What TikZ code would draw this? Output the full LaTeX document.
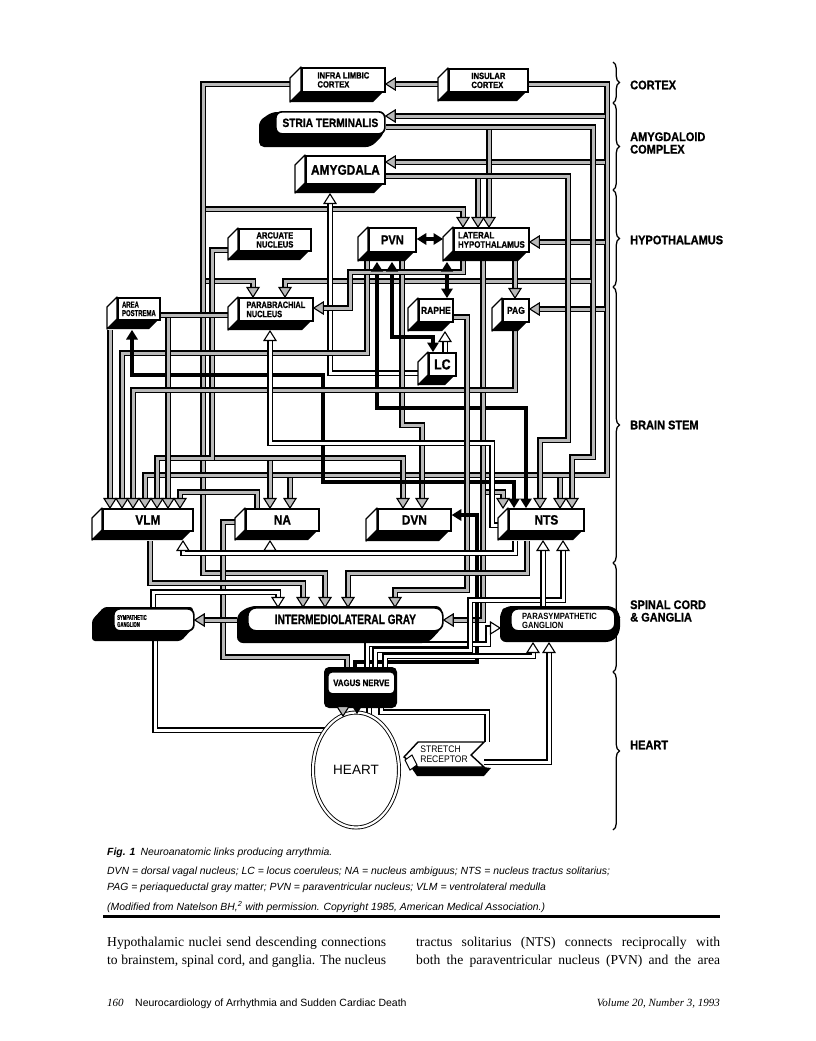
\documentclass[tikz,border=0pt]{standalone}
\usepackage{fontspec}
\usepackage{graphicx}
\setmainfont{Liberation Serif}
\newfontfamily\fs{Liberation Sans}
\newfontfamily\fh{Liberation Sans}[BoldFeatures={FakeBold=1}]
\usetikzlibrary{shapes.geometric,decorations.pathreplacing,backgrounds}
\newcommand\fz[1]{\fontsize{#1}{#1}\selectfont}
\newcommand\one[2]{\scalebox{#1}[1]{#2}}
\newcommand\two[3]{\scalebox{#1}[1]{#2}\\\scalebox{#1}[1]{#3}}
\newcommand\tD[2]{\pic[rotate=-90] at (#1) {#2};}
\newcommand\tU[2]{\pic[rotate=90] at (#1) {#2};}
\newcommand\tL[2]{\pic[rotate=180] at (#1) {#2};}
\newcommand\tR[2]{\pic at (#1) {#2};}
\newcommand\cube[8]{%
  \fill[black] (#2,#5) -- ({#2-#6},{#5+#6}) -- ({#4-#6},{#5+#6}) -- (#4,#5) -- cycle;
  \filldraw[fill=white,draw=black,line width=1.3pt,line join=round] (#2,#3) -- ({#2-#6},{#3+#6}) -- ({#2-#6},{#5+#6}) -- (#2,#5) -- cycle;
  \node[face,minimum width={#4-#2},minimum height={#5-#3},font={\fh\bfseries\fz{#7}}] (#1) at (#2,#3) {#8};}
\tikzset{
  hat/.style={draw=black,line width=5.6pt,line join=miter,postaction={draw=gray!55,line width=3pt}},
  wht/.style={draw=black,line width=5.6pt,line join=miter,postaction={draw=white,line width=3pt}},
  blk/.style={draw=black,line width=4pt,line join=miter},
  sa/.style={shorten >=8pt},
  sb/.style={shorten <=8pt},
  pics/hT/.style={code={\filldraw[draw=black,fill=gray!55,line width=1.1pt,line join=miter] (0,0) -- (-9.5,6) -- (-9.5,-6) -- cycle;}},
  pics/wT/.style={code={\filldraw[draw=black,fill=white,line width=1.1pt,line join=miter] (0,0) -- (-9.5,6) -- (-9.5,-6) -- cycle;}},
  pics/bT/.style={code={\fill[black] (0,0) -- (-9.5,6) -- (-9.5,-6) -- cycle;}},
  face/.style={draw=black,line width=1.8pt,fill=white,inner sep=0pt,anchor=north west,align=left},
  rface/.style={draw=black,line width=1.7pt,fill=white,inner sep=0pt,anchor=north west,align=left},
  rlab/.style={anchor=west,inner sep=0pt,align=left,font={\fh\bfseries\fz{12.5}}},
  txt/.style={anchor=base west,inner sep=0pt},
}
\begin{document}
\begin{tikzpicture}[x=1pt,y=-1pt]
\useasboundingbox (0,0) rectangle (816,1041);

% ---------- boxes ----------
\cube{ilc}{301}{67}{384}{91}{11}{9}{\two{0.85}{INFRA LIMBIC}{CORTEX}}
\cube{ins}{448}{68}{527}{91}{10}{9}{\two{0.85}{INSULAR}{CORTEX}}
\fill[black,rounded corners=5pt] (272,112) -- (384,112) -- (384,134) -- (371,147) -- (259,147) -- (259,121) -- cycle;
\node[rface,rounded corners=6pt,minimum width=109,minimum height=22,font={\fh\bfseries\fz{12}}] (stria) at (275,111) {\one{0.85}{STRIA TERMINALIS}};
\cube{amy}{305}{155}{384}{183}{10}{14}{\one{0.85}{AMYGDALA}}
\cube{arc}{238}{228}{310}{250}{10}{9}{\two{0.85}{ARCUATE}{NUCLEUS}}
\cube{pvn}{368}{227}{415}{251}{10}{13}{\one{0.85}{PVN}}
\cube{lh}{453}{227}{528}{251}{10}{9.3}{\two{0.85}{LATERAL}{HYPOTHALAMUS}}
\cube{ap}{117}{297}{159}{319}{10}{8.5}{\two{0.7}{AREA}{POSTREMA}}
\cube{pb}{238}{297}{312}{320}{10}{9.2}{\two{0.8}{PARABRACHIAL}{NUCLEUS}}
\cube{raphe}{418}{298}{452}{321}{10}{10}{\one{0.85}{RAPHE}}
\cube{pag}{502}{298}{528}{321}{10}{10}{\one{0.85}{PAG}}
\cube{lc}{428}{352}{455}{375}{10}{14.5}{\one{0.85}{LC}}
\cube{vlm}{102}{508}{192}{530}{10}{13.5}{\one{0.88}{VLM}}
\cube{na}{245}{508}{318}{530}{10}{13.5}{\one{0.88}{NA}}
\cube{dvn}{377}{508}{450}{530}{11}{13.5}{\one{0.88}{DVN}}
\cube{nts}{508}{508}{583}{530}{10}{13.5}{\one{0.88}{NTS}}

% spinal cord & ganglia
\fill[black,rounded corners=3pt] (104,607) -- (193,607) -- (193,628) -- (181,641) -- (92,641) -- (92,620) -- cycle;
\node[rface,rounded corners=6pt,minimum width=80,minimum height=22] (symp) at (113,608) {};
\node[anchor=west,inner sep=0pt,align=left,font={\fh\bfseries\fz{7}}] (symptxt) at (117,621) {\two{0.6}{SYMPATHETIC}{GANGLION}};
\fill[black,rounded corners=6pt] (250,606) -- (442,606) -- (442,628) -- (428,643) -- (237,643) -- (237,614) -- cycle;
\node[rface,rounded corners=8pt,minimum width=195,minimum height=23,font={\fh\bfseries\fz{13.5}}] (iml) at (247,607) {\one{0.75}{INTERMEDIOLATERAL GRAY}};
\fill[black,rounded corners=6pt] (506,606) -- (613,606) -- (620,613) -- (620,633) -- (612,642) -- (500,642) -- (500,612) -- cycle;
\node[rface,rounded corners=7pt,minimum width=104,minimum height=22] (para) at (510,608) {};
\node[anchor=west,inner sep=0pt,align=left,font={\fs\bfseries\fz{9}}] (paratxt) at (522,620.5) {\two{0.85}{PARASYMPATHETIC}{GANGLION}};

% heart region
\fill[black,rounded corners=5pt] (324,667) rectangle (397,708);
\node[rface,rounded corners=4pt,minimum width=67,minimum height=22,font={\fh\bfseries\fz{9.2}}] (vagus) at (327,671) {\one{0.85}{VAGUS NERVE}};
\node[ellipse,draw,fill=white,line width=0.9pt,double=white,double distance=2.2pt,minimum width=86,minimum height=115,inner sep=0pt,font={\fs\fz{13.5}}] (heart) at (356,770) {HEART};
\fill[black] (404,757) -- (417,776) -- (484,776) -- (491,768) -- (483,767) -- (418,767) -- cycle;
\filldraw[fill=white,draw=black,line width=1.4pt,line join=miter] (404,757) -- (418,742) -- (484,742) -- (471,755) -- (484,767) -- (418,767) -- cycle;
\filldraw[fill=white,draw=black,line width=1pt] (405,760) -- (412,755) -- (417,765) -- (410,770) -- cycle;
\node[inner sep=0pt,align=left,font={\fs\fz{9.5}}] (stretch) at (444,754) {\two{0.9}{STRETCH}{RECEPTOR}};

% ---------- connectors ----------
\begin{pgfonlayer}{background}
\fill[white] (0,0) rectangle (816,1041);
% cortex / amygdala
\draw[hat,sa] (290,84) -- (203,84) -- (203,573) -- (325,573) -- (325,0 |- iml.north);
\draw[hat,sa] (438,84) -- (ilc.east |- 0,84);
\draw[hat,sa] (ins.east |- 0,84) -- (607,84) -- (607,475) -- (145,475) -- (145,0 |- vlm.north);
\draw[hat,sa] (604.5,116) -- (stria.east |- 0,116);
\draw[hat,sa] (604.5,162) -- (amy.east |- 0,162);
\draw[hat,sa] (604.5,242) -- (lh.east |- 0,242);
\draw[hat,sa] (604.5,309) -- (pag.east |- 0,309);
\draw[hat,sa] (560,477.5) -- (560,0 |- nts.north);
\draw[hat,sa] (290,477.5) -- (290,0 |- na.north);
\draw[hat,sa] (stria.east |- 0,127) -- (593,127) -- (593,457) -- (572,457) -- (572,0 |- nts.north);
\draw[hat,sa] (489,129.5) -- (489,0 |- lh.north);
\draw[hat,sa] (590.5,281) -- (285,281) -- (285,0 |- pb.north);
\draw[hat,sa] (amy.east |- 0,176) -- (568,176) -- (568,440) -- (540,440) -- (540,0 |- nts.north);
\draw[hat,sa] (478,178.5) -- (478,0 |- lh.north);
\draw[hat,sa] (205.5,209) -- (463,209) -- (463,0 |- lh.north);
\draw[hat,sa] (205.5,281) -- (253,281) -- (253,0 |- pb.north);
\draw[wht,sa] (418,373) -- (330,373) -- (330,194);
% hypothalamus
\draw[blk,sa,sb] (pvn.east |- 0,239) -- (443,239);
\draw[hat,sa] (228,250) -- (212,250) -- (212,458) -- (157,458) -- (157,0 |- vlm.north);
\draw[hat,sa] (214.5,458) -- (403,458) -- (403,0 |- dvn.north);
\draw[hat,sa] (270,460.5) -- (270,0 |- na.north);
\draw[hat,sa] (367,252) -- (367,353) -- (122,353) -- (122,0 |- vlm.north);
\draw[hat,sa] (402,252) -- (402,425) -- (422,425) -- (422,0 |- dvn.north);
\draw[blk,sa,sb] (377,262) -- (377,408) -- (526,408) -- (526,0 |- nts.north);
\draw[blk,sa,sb] (392,262) -- (392,337) -- (433,337) -- (433,0 |- lc.north);
\draw[blk,sa,sb] (447,262) -- (447,0 |- raphe.north);
\draw[hat,sa] (463,252) -- (463,272) -- (350,272) -- (350,308) -- (pb.east |- 0,308);
\draw[hat,sa] (515,252) -- (515,0 |- pag.north);
\draw[hat,sa] (483,252) -- (483,620) -- (iml.east |- 0,620);
\draw[hat,sa] (485.5,492) -- (503,492) -- (503,0 |- nts.north);
\draw[wht,sa] (445,352) -- (445,332);
% brain stem
\draw[hat,sa] (110,330) -- (110,0 |- vlm.north);
\draw[blk,sa,sb] (132,330) -- (132,375) -- (323,375) -- (323,482) -- (514,482) -- (514,0 |- nts.north);
\draw[hat] (228,315) -- (ap.east |- 0,315);
\draw[hat,sa] (168,317.5) -- (168,0 |- vlm.north);
\draw[hat,sa] (515,331) -- (515,390) -- (133,390) -- (133,0 |- vlm.north);
\draw[wht,sa] (498,525) -- (492,525) -- (492,443) -- (270,443) -- (270,331);
\draw[hat,sa] (452,317) -- (467,317) -- (467,590) -- (395,590) -- (395,0 |- iml.north);
\draw[hat,sa] (257,0 |- na.north) -- (257,492) -- (180,492) -- (180,0 |- vlm.north);
\draw[hat] (235,522) -- (223,522) -- (223,657) -- (347,657) -- (347,0 |- vagus.north);
\draw[blk,sa] (355,668) -- (355,662) -- (477,662) -- (477,515) -- (dvn.east |- 0,515);
\draw[wht,sa] (515,541) -- (515,553) -- (183,553) -- (183,541);
\draw[wht,sa] (270,550.5) -- (270,541);
\draw[hat,sa] (527,541) -- (527,573) -- (348,573) -- (348,0 |- iml.north);
\draw[hat,sa] (150,541) -- (150,583) -- (303,583) -- (303,0 |- iml.north);
\draw[wht,sa] (153,608) -- (153,592) -- (278,592) -- (278,0 |- iml.north);
\draw[hat,sa] (237,620) -- (symp.east |- 0,620);
% heart region
\draw[wht] (155,641) -- (155,730) -- (330,730);
\draw[hat,sa] (343,700) -- (343,716);
\draw[blk,sa] (357,700) -- (357,714);
\draw[wht] (369,700) -- (369,717);
\draw[wht] (381,700) -- (381,712) -- (487,712) -- (487,742);
\draw[wht,sa] (484,762) -- (549,762) -- (549,643);
\draw[wht,sa] (367,668) -- (367,644) -- (488,644) -- (488,628) -- (500,628);
\draw[wht,sa] (385,668) -- (385,656) -- (533,656) -- (533,643);
\draw[wht,sa] (375,668) -- (375,650) -- (470,650) -- (470,600) -- (563,600) -- (563,541);
\draw[wht,sa] (543,607) -- (543,541);
\end{pgfonlayer}

% ---------- arrow tips ----------
\tD{325,0 |- iml.north}{hT}
\tL{ilc.east |- 0,84}{hT}
\tD{145,0 |- vlm.north}{hT}
\tL{stria.east |- 0,116}{hT}
\tL{amy.east |- 0,162}{hT}
\tL{lh.east |- 0,242}{hT}
\tL{pag.east |- 0,309}{hT}
\tD{560,0 |- nts.north}{hT}
\tD{290,0 |- na.north}{hT}
\tD{572,0 |- nts.north}{hT}
\tD{489,0 |- lh.north}{hT}
\tD{285,0 |- pb.north}{hT}
\tD{540,0 |- nts.north}{hT}
\tD{478,0 |- lh.north}{hT}
\tD{463,0 |- lh.north}{hT}
\tD{253,0 |- pb.north}{hT}
\tU{330,194}{wT}
\tL{pvn.east |- 0,239}{bT}
\tR{443,239}{bT}
\tD{157,0 |- vlm.north}{hT}
\tD{403,0 |- dvn.north}{hT}
\tD{270,0 |- na.north}{hT}
\tD{122,0 |- vlm.north}{hT}
\tD{422,0 |- dvn.north}{hT}
\tU{377,262}{bT}
\tD{526,0 |- nts.north}{bT}
\tU{392,262}{bT}
\tD{433,0 |- lc.north}{bT}
\tU{447,262}{bT}
\tD{447,0 |- raphe.north}{bT}
\tL{pb.east |- 0,308}{hT}
\tD{515,0 |- pag.north}{hT}
\tL{iml.east |- 0,620}{hT}
\tD{503,0 |- nts.north}{hT}
\tU{445,332}{wT}
\tD{110,0 |- vlm.north}{hT}
\tU{132,330}{bT}
\tD{514,0 |- nts.north}{bT}
\tD{168,0 |- vlm.north}{hT}
\tD{133,0 |- vlm.north}{hT}
\tU{270,331}{wT}
\tD{395,0 |- iml.north}{hT}
\tD{180,0 |- vlm.north}{hT}
\tL{dvn.east |- 0,515}{bT}
\tU{183,541}{wT}
\tU{270,541}{wT}
\tD{348,0 |- iml.north}{hT}
\tD{303,0 |- iml.north}{hT}
\tD{278,0 |- iml.north}{wT}
\tL{symp.east |- 0,620}{hT}
\tD{343,716}{hT}
\tD{357,714}{bT}
\tU{549,643}{wT}
\tR{500,628}{wT}
\tU{533,643}{wT}
\tU{563,541}{wT}
\tU{543,541}{wT}

% ---------- level braces ----------
\foreach \a/\b in {62/103,103/190,190/287,287/563,563/672,672/830}
  \draw[line width=1.3pt,decorate,decoration={brace,amplitude=6.5pt}] (613,\a) -- (613,\b);
\node[rlab] (lcortex) at (630,85) {\one{0.88}{CORTEX}};
\node[rlab] (lamyg) at (630,143) {\two{0.88}{AMYGDALOID}{COMPLEX}};
\node[rlab] (lhypo) at (630,240) {\one{0.88}{HYPOTHALAMUS}};
\node[rlab] (lbrain) at (630,425) {\one{0.88}{BRAIN STEM}};
\node[rlab] (lspinal) at (630,611) {\two{0.88}{SPINAL CORD}{\& GANGLIA}};
\node[rlab] (lheart) at (630,745) {\one{0.88}{HEART}};

% ---------- caption, text, footer ----------
\node[txt,font={\fs\itshape\fz{10.4}}] (cap1) at (107,855) {{\bfseries Fig. 1}\enspace Neuroanatomic links producing arrythmia.};
\node[txt,font={\fs\itshape\fz{10.4}}] (cap2) at (107,874) {DVN = dorsal vagal nucleus; LC = locus coeruleus; NA = nucleus ambiguus; NTS = nucleus tractus solitarius;};
\node[txt,font={\fs\itshape\fz{10.4}}] (cap3) at (107,890) {PAG = periaqueductal gray matter; PVN = paraventricular nucleus; VLM = ventrolateral medulla};
\node[txt,font={\fs\itshape\fz{10.4}}] (cap4) at (107,910) {(Modified from Natelson BH,\textsuperscript{2} with permission. Copyright 1985, American Medical Association.)};
\fill (103,914.5) rectangle (720,918);
\node[txt,font={\fz{13.6}}] (b1) at (107,946) {\makebox[279pt][s]{Hypothalamic nuclei send descending connections}};
\node[txt,font={\fz{13.6}}] (b2) at (107,964) {\makebox[279pt][s]{to brainstem, spinal cord, and ganglia. The nucleus}};
\node[txt,font={\fz{13.6}}] (b3) at (416,946) {\makebox[304pt][s]{tractus solitarius (NTS) connects reciprocally with}};
\node[txt,font={\fz{13.6}}] (b4) at (416,964) {\makebox[304pt][s]{both the paraventricular nucleus (PVN) and the area}};
\node[txt,font={\itshape\fz{11}}] (f1) at (107,1006) {160};
\node[txt,font={\fs\fz{10.5}}] (f2) at (135,1006) {Neurocardiology of Arrhythmia and Sudden Cardiac Death};
\node[anchor=base east,inner sep=0pt,font={\itshape\fz{11}}] (f3) at (720,1006) {Volume 20, Number 3, 1993};
\end{tikzpicture}
\end{document}
